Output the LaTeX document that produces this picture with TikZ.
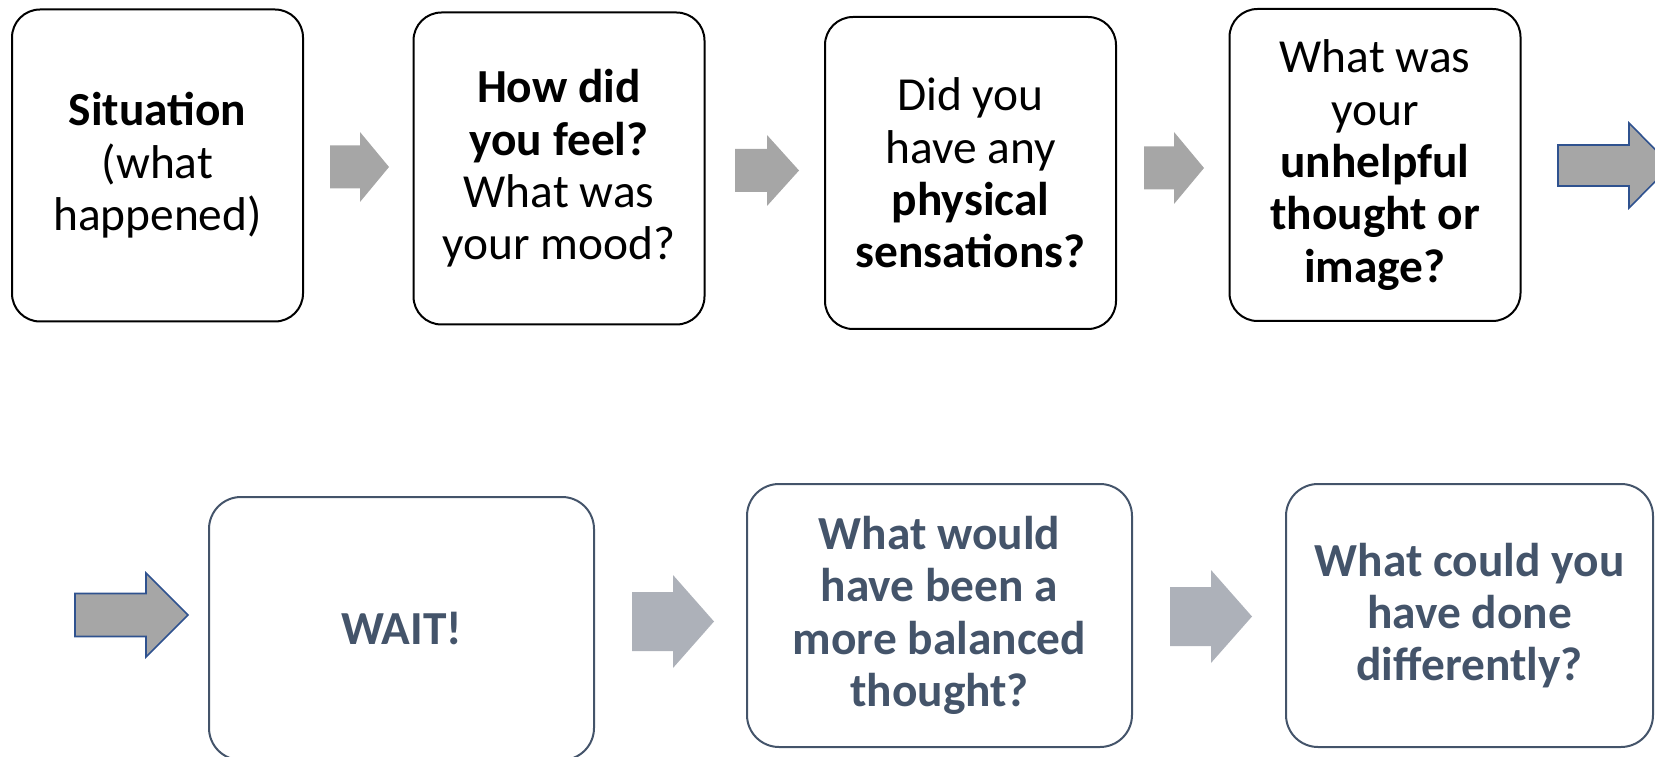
\documentclass[tikz,border=0pt]{standalone}
\usepackage{fontspec}
\setmainfont{Carlito}
\usepackage{xcolor}
\usetikzlibrary{calc}

\definecolor{slate}{HTML}{44546A}
\definecolor{arrowgray}{HTML}{A6A6A6}
\definecolor{paleslate}{HTML}{ADB1B9}
\definecolor{edgeblue}{HTML}{2F528F}

\newcommand{\boxfont}{\fontsize{23.7pt}{26.2pt}\selectfont}
% block arrow: style, tail centre, shaft length, head length, shaft half width, head half width
\newcommand{\blockarrow}[6]{%
  \draw[#1] (#2) ++(0,#5) -- ++(#3,0) -- ++(0,{#6-#5}) -- ++(#4,-#6) -- ++(-#4,-#6) -- ++(0,{#6-#5}) -- ++(-#3,0) -- cycle;}

\begin{document}
\begin{tikzpicture}[
  x=0.5pt, y=0.5pt,
  font=\boxfont,
  topbox/.style={draw=black, line width=1pt, rounded corners=14pt, minimum width=145.5pt, minimum height=156pt, align=center, inner sep=0pt},
  lowbox/.style={draw=slate, text=slate, line width=1pt, rounded corners=16pt, minimum width=192.5pt, minimum height=131.5pt, align=center, inner sep=0pt, font=\boxfont\bfseries},
  graystep/.style={fill=arrowgray, draw=none},
  palestep/.style={fill=paleslate, draw=none},
  outlined/.style={fill=arrowgray, draw=edgeblue, line width=0.8pt}
]
\clip (0,0) rectangle (1655,756);

% top row
\node[topbox] (situation) at (157.5,590.5) {\textbf{Situation}\\(what\\happened)};
\node[topbox] (feel) at (559,587.5) {\textbf{How did}\\\textbf{you feel?}\\What was\\your mood?};
\node[topbox] (body) at (970.5,583) {Did you\\have any\\\textbf{physical}\\\textbf{sensations?}};
\node[topbox] (thought) at (1375,591) {What was\\your\\\textbf{unhelpful}\\\textbf{thought or}\\\textbf{image?}};

% bottom row
\node[lowbox] (wait) at (401.5,127.5) {WAIT!};
\node[lowbox] (balanced) at (939.5,140.5) {What would\\have been a\\more balanced\\thought?};
\node[lowbox, minimum width=183.5pt] (differently) at (1469.5,140.5) {What could you\\have done\\differently?};

% arrow tails
\coordinate (s1) at (330,589);
\coordinate (s2) at (735,585.5);
\coordinate (s3) at (1144,588);
\coordinate (out) at (1558,590.5);
\coordinate (in) at (75,141);
\coordinate (s4) at (632,134.5);
\coordinate (s5) at (1170,139.5);

\blockarrow{graystep}{s1}{30}{29}{21.5}{35}
\blockarrow{graystep}{s2}{32}{32}{21.5}{35.5}
\blockarrow{graystep}{s3}{30}{30}{21.5}{36}
\blockarrow{outlined}{out}{71}{42}{20.5}{42.5}
\blockarrow{outlined}{in}{71}{42}{21.5}{42}
\blockarrow{palestep}{s4}{41}{41}{29.5}{46.5}
\blockarrow{palestep}{s5}{41}{41}{29.5}{46.5}

\end{tikzpicture}
\end{document}
